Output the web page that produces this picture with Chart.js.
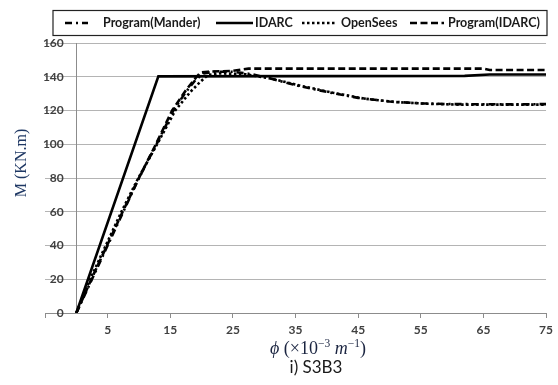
<!DOCTYPE html>
<html><head><meta charset="utf-8">
<script src="https://cdn.jsdelivr.net/npm/chart.js@4.4.0/dist/chart.umd.min.js"></script>
<style>html,body{margin:0;padding:0;background:#fff;}#wrap{width:558px;height:385px;}</style>
</head><body><div id="wrap"><canvas id="c" width="558" height="385"></canvas></div>
<script>
// ---- data ----
const seriesNames = ['Program(Mander)', 'IDARC', 'OpenSees', 'Program(IDARC)'];
const xTickValues = [-5, 5, 15, 25, 35, 45, 55, 65, 75];
const yTickValues = [0, 20, 40, 60, 80, 100, 120, 140, 160];

const manderX = [0, 2.5, 5, 7.5, 10, 12.8, 15.5, 17.5, 19, 20.3, 22, 25, 28, 31, 35, 40, 45, 50, 55, 60, 65, 70, 75];
const manderM = [0, 20, 40, 60, 80, 100, 120, 131, 138, 142, 143, 143, 141.5, 139, 135, 131, 127.5, 125.3, 124.2, 123.8, 123.7, 123.6, 123.8];

const idarcX = [0, 13.1, 62, 66, 75];
const idarcM = [0, 140.2, 140.5, 141.3, 141.3];

const openseesX = [0, 2.2, 4.7, 7.2, 9.9, 12.9, 15.8, 18.2, 19.8, 21, 23, 27, 31, 36, 41, 46, 51, 56, 61, 67, 75];
const openseesM = [0, 20, 40, 60, 80, 100, 120, 131, 137, 141, 142, 141.5, 139, 134.5, 130.5, 127, 125, 124, 123.5, 123.5, 123.5];

const progIdarcX = [0, 2.4, 4.9, 7.4, 10, 12.7, 15.3, 17.5, 19, 19.8, 21, 25, 27.5, 40, 50, 60, 65, 66, 75];
const progIdarcM = [0, 20, 40, 60, 80, 100, 120, 132, 139, 142.5, 143, 143.5, 144.8, 144.8, 144.8, 144.8, 144.8, 144, 144];

const toPts = (xs, ys) => xs.map((x, i) => ({x: x, y: ys[i]}));

const dashes = {
  'Program(Mander)': [7, 4, 2, 4],
  'IDARC': [],
  'OpenSees': [2.5, 2.5],
  'Program(IDARC)': [7, 3.5]
};

const datasets = [
  {label: seriesNames[0], data: toPts(manderX, manderM)},
  {label: seriesNames[1], data: toPts(idarcX, idarcM)},
  {label: seriesNames[2], data: toPts(openseesX, openseesM)},
  {label: seriesNames[3], data: toPts(progIdarcX, progIdarcM)}
].map(d => Object.assign(d, {
  borderColor: '#000', backgroundColor: '#000', borderWidth: 2.6,
  borderDash: dashes[d.label], pointRadius: 0, tension: 0, fill: false
}));

const decor = {
  id: 'decor',
  beforeDatasetsDraw(chart) {
    const {ctx, scales: {x, y}} = chart;
    ctx.save();
    ctx.strokeStyle = '#8c8c8c';
    ctx.lineWidth = 1;
    const px = Math.round(x.getPixelForValue(0)) + 0.5;
    ctx.beginPath();
    ctx.moveTo(px, y.getPixelForValue(160));
    ctx.lineTo(px, y.getPixelForValue(0));
    ctx.stroke();
    ctx.restore();
  },
  afterDraw(chart) {
    const {ctx} = chart;
    ctx.save();
    // legend box
    ctx.strokeStyle = '#222';
    ctx.lineWidth = 1.2;
    ctx.strokeRect(53, 10.5, 494, 25);
    const items = [
      {name: seriesNames[0], x1: 65, x2: 88, tx: 103},
      {name: seriesNames[1], x1: 216, x2: 253, tx: 255},
      {name: seriesNames[2], x1: 302, x2: 335, tx: 341},
      {name: seriesNames[3], x1: 410, x2: 444, tx: 448}
    ];
    const ly = 23;
    ctx.font = 'bold 12.5px Lato';
    ctx.textBaseline = 'middle';
    ctx.textAlign = 'left';
    ctx.fillStyle = '#1a1a1a';
    items.forEach(it => {
      ctx.strokeStyle = '#000';
      ctx.lineWidth = 2.6;
      ctx.setLineDash(dashes[it.name]);
      ctx.beginPath();
      ctx.moveTo(it.x1, ly);
      ctx.lineTo(it.x2, ly);
      ctx.stroke();
      ctx.setLineDash([]);
      ctx.fillText(it.name, it.tx, ly);
    });
    // y title
    ctx.save();
    ctx.translate(22, 163);
    ctx.rotate(-Math.PI / 2);
    ctx.font = '16px "Liberation Serif"';
    ctx.fillStyle = '#1f3864';
    ctx.textAlign = 'center';
    ctx.textBaseline = 'middle';
    ctx.fillText('M (KN.m)', 0, 0);
    ctx.restore();
    // x title with superscripts
    const segs = [
      {t: '\u03D5', f: 'italic 18px "Liberation Serif"', dy: 0},
      {t: ' (\u00D710', f: '18px "Liberation Serif"', dy: 0},
      {t: '\u22123', f: '11.5px "Liberation Serif"', dy: -7.5},
      {t: ' m', f: 'italic 18px "Liberation Serif"', dy: 0},
      {t: '\u22121', f: '11.5px "Liberation Serif"', dy: -7.5},
      {t: ')', f: '18px "Liberation Serif"', dy: 0}
    ];
    let total = 0;
    segs.forEach(s => { ctx.font = s.f; s.w = ctx.measureText(s.t).width; total += s.w; });
    let cx = 318 - total / 2;
    ctx.fillStyle = '#1a2440';
    ctx.textAlign = 'left';
    ctx.textBaseline = 'alphabetic';
    segs.forEach(s => { ctx.font = s.f; ctx.fillText(s.t, cx, 354 + s.dy); cx += s.w; });
    // caption
    ctx.font = '17px Lato';
    ctx.fillStyle = '#1a1a1a';
    ctx.textAlign = 'center';
    ctx.textBaseline = 'middle';
    ctx.fillText('i) S3B3', 316, 368);
    ctx.restore();
  }
};

new Chart(document.getElementById('c'), {
  type: 'line',
  data: {datasets: datasets},
  options: {
    responsive: false,
    animation: false,
    devicePixelRatio: 1,
    layout: {padding: {left: 45, right: 8, top: 43, bottom: 44}},
    plugins: {legend: {display: false}, tooltip: {enabled: false}},
    scales: {
      x: {
        type: 'linear', min: -5, max: 75,
        afterBuildTicks: s => { s.ticks = xTickValues.map(v => ({value: v})); },
        afterFit: s => { s.height = 28; },
        grid: {drawOnChartArea: false, drawTicks: true, tickLength: 5, color: '#8c8c8c'},
        border: {display: true, color: '#8c8c8c', width: 1},
        ticks: {
          padding: 5, maxRotation: 0, autoSkip: false,
          font: {family: 'Lato', size: 12, weight: 'bold'}, color: '#404040',
          callback: v => (v === -5 ? '' : String(v))
        }
      },
      y: {
        type: 'linear', min: 0, max: 160,
        position: {x: -2},
        afterBuildTicks: s => { s.ticks = yTickValues.map(v => ({value: v})); },
        grid: {drawTicks: false, color: '#b4b4b4', lineWidth: 1},
        border: {display: false},
        ticks: {
          padding: 0,
          font: {family: 'Lato', size: 12, weight: 'bold'}, color: '#404040'
        }
      }
    }
  },
  plugins: [decor]
});
</script>
</body></html>
